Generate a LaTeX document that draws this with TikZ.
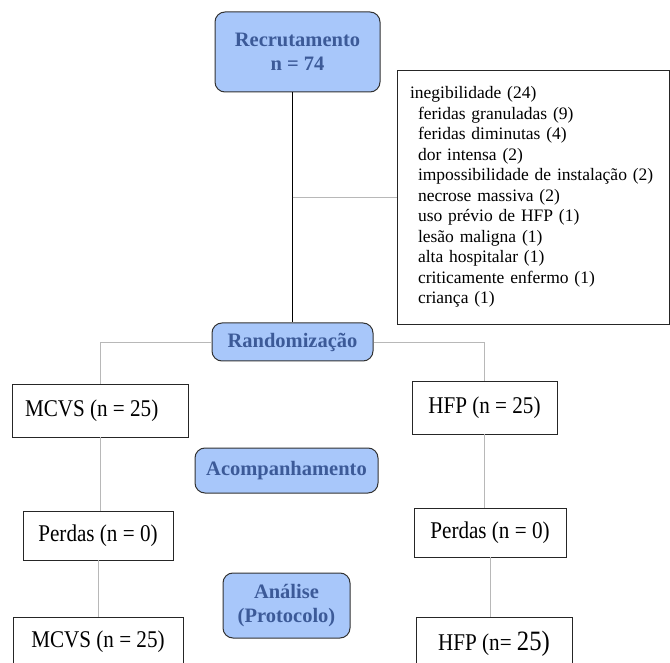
\documentclass[tikz,border=0pt]{standalone}
\usepackage{fontspec}
\setmainfont{Liberation Serif}
\newfontfamily\boxfont{Liberation Serif}[FakeStretch=0.88]
\definecolor{titlefill}{RGB}{168,199,250}
\definecolor{titletext}{RGB}{60,90,152}
\begin{document}
\begin{tikzpicture}[x=1pt,y=-1pt,
  title/.style={draw=black!80, fill=titlefill, rounded corners=10pt, text=titletext,
    font=\fontsize{20.5}{24}\selectfont\bfseries, align=center, inner sep=0pt, line width=1pt},
  plain/.style={draw=black!85, fill=white, font=\boxfont\fontsize{24}{28}\selectfont,
    inner sep=0pt, line width=0.9pt},
  link/.style={draw=black!28, line width=0.8pt},
  mainlink/.style={draw=black, line width=1pt}]
\useasboundingbox (0,0) rectangle (670,663);
\clip (0,0) rectangle (670,663);
\fill[white] (0,0) rectangle (670,663);

\node[title, minimum width=165pt, minimum height=80pt] (rec) at (297.5,52) {Recrutamento\\n = 74};
\node[plain, minimum width=272pt, minimum height=254pt, text width=246pt, inner xsep=13pt,
  align=left, font=\fontsize{17.5}{20.5}\selectfont] (ineg) at (533,197)
  {inegibilidade (24)\\
   \hspace*{8pt}feridas granuladas (9)\\
   \hspace*{8pt}feridas diminutas (4)\\
   \hspace*{8pt}dor intensa (2)\\
   \hspace*{8pt}impossibilidade de instalação (2)\\
   \hspace*{8pt}necrose massiva (2)\\
   \hspace*{8pt}uso prévio de HFP (1)\\
   \hspace*{8pt}lesão maligna (1)\\
   \hspace*{8pt}alta hospitalar (1)\\
   \hspace*{8pt}criticamente enfermo (1)\\
   \hspace*{8pt}criança (1)};
\node[title, minimum width=161pt, minimum height=38pt] (rand) at (292.5,342) {Randomização};
\node[plain, minimum width=176pt, minimum height=53pt] (mcvsA) at (100,410.5)
  {\makebox[150pt][l]{MCVS (n = 25)}};
\node[plain, minimum width=145pt, minimum height=53pt] (hfpA) at (484.5,407.5) {HFP (n = 25)};
\node[title, minimum width=183pt, minimum height=45pt] (acomp) at (286.5,470.5) {Acompanhamento};
\node[plain, minimum width=150pt, minimum height=49pt] (perdA) at (98,535.5) {Perdas (n = 0)};
\node[plain, minimum width=152pt, minimum height=49pt] (perdB) at (490,532.5) {Perdas (n = 0)};
\node[title, minimum width=127pt, minimum height=65pt] (anal) at (286.5,605.5) {Análise\\(Protocolo)};
\node[plain, minimum width=170pt, minimum height=50pt] (mcvsB) at (98,642) {MCVS (n = 25)};
\node[plain, minimum width=156pt, minimum height=54pt] (hfpB) at (494,644)
  {HFP (n= {\fontsize{28}{30}\selectfont 25)}};

\draw[mainlink] (rec.south -| rand.north) -- (rand.north);
\draw[link] (rand.north |- ineg.west) -- (ineg.west);
\draw[link] (rand.west) -| (mcvsA.north);
\draw[link] (rand.east) -| (hfpA.north);
\draw[link] (mcvsA.south) -- (mcvsA.south |- perdA.north);
\draw[link] (hfpA.south) -- (hfpA.south |- perdB.north);
\draw[link] (perdA.south) -- (perdA.south |- mcvsB.north);
\draw[link] (perdB.south) -- (perdB.south |- hfpB.north);
\end{tikzpicture}
\end{document}
